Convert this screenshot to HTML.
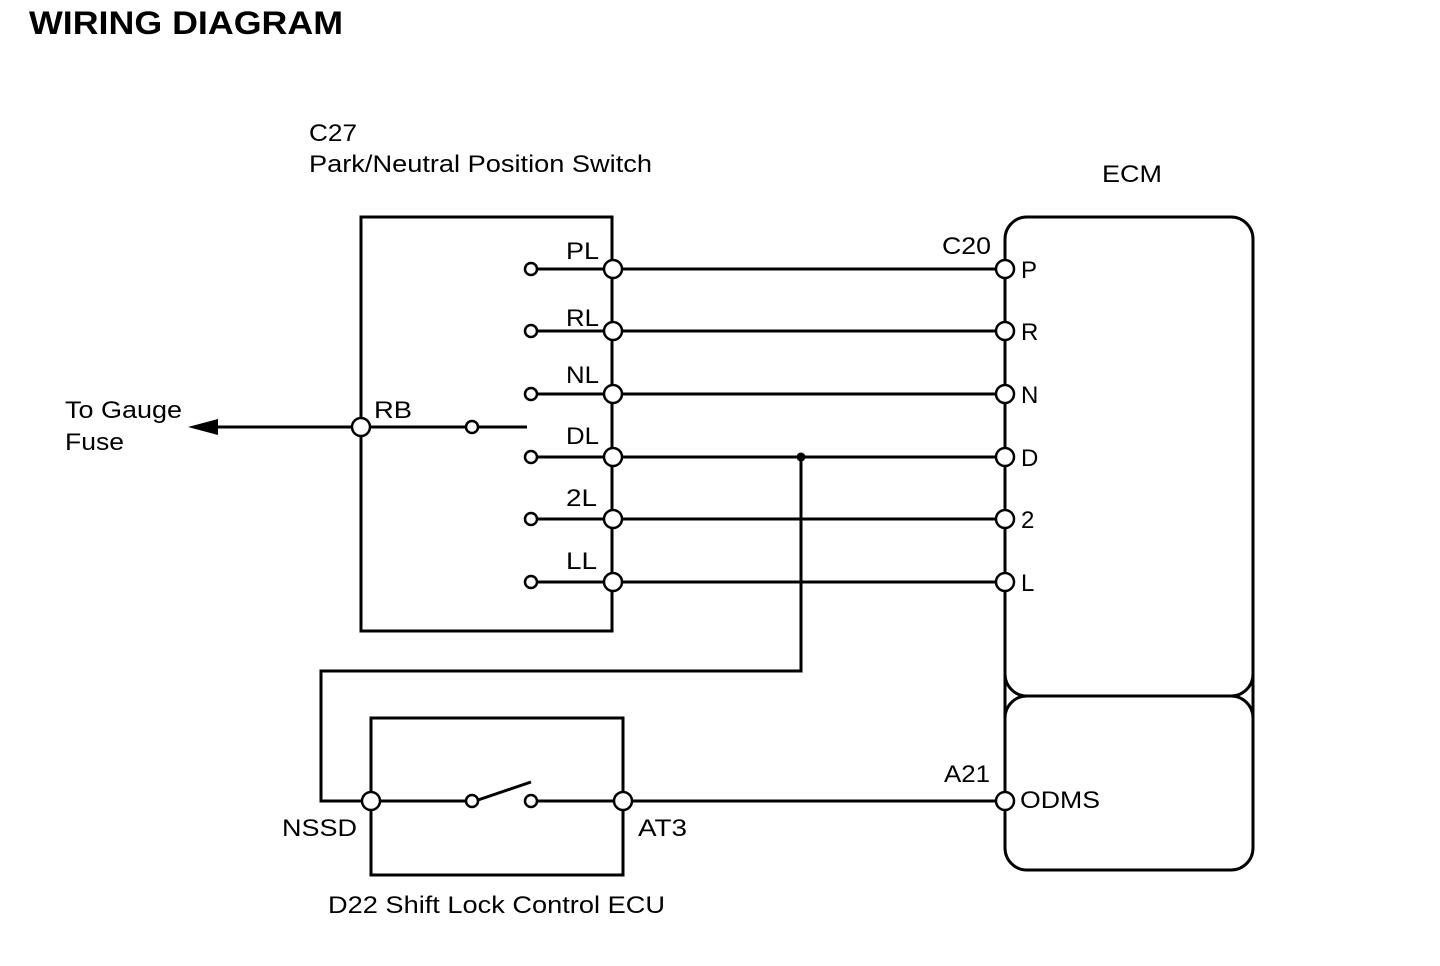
<!DOCTYPE html>
<html><head><meta charset="utf-8"><style>
html,body{margin:0;padding:0;background:#fff;}
svg{display:block;}
text{font-family:"Liberation Sans",Arial,sans-serif;fill:#000;}
</style></head><body>
<svg width="1440" height="966" viewBox="0 0 1440 966" xmlns="http://www.w3.org/2000/svg">
<text x="29" y="34" font-size="32" font-weight="bold" textLength="314" lengthAdjust="spacingAndGlyphs">WIRING DIAGRAM</text>
<g font-size="24" lengthAdjust="spacingAndGlyphs">
<text x="309" y="141" textLength="48" lengthAdjust="spacingAndGlyphs">C27</text>
<text x="309" y="172" textLength="343" lengthAdjust="spacingAndGlyphs">Park/Neutral Position Switch</text>
<text x="1102" y="182" textLength="60" lengthAdjust="spacingAndGlyphs">ECM</text>
<text x="65" y="418" textLength="117" lengthAdjust="spacingAndGlyphs">To Gauge</text>
<text x="65" y="450" textLength="59" lengthAdjust="spacingAndGlyphs">Fuse</text>
<text x="374" y="418" textLength="38" lengthAdjust="spacingAndGlyphs">RB</text>
<text x="566" y="259" textLength="33" lengthAdjust="spacingAndGlyphs">PL</text>
<text x="566" y="326" textLength="33" lengthAdjust="spacingAndGlyphs">RL</text>
<text x="566" y="383" textLength="33" lengthAdjust="spacingAndGlyphs">NL</text>
<text x="566" y="444" textLength="33" lengthAdjust="spacingAndGlyphs">DL</text>
<text x="566" y="506" textLength="31" lengthAdjust="spacingAndGlyphs">2L</text>
<text x="566" y="569" textLength="31" lengthAdjust="spacingAndGlyphs">LL</text>
<text x="942" y="254" textLength="49" lengthAdjust="spacingAndGlyphs">C20</text>
<text x="1021" y="278">P</text>
<text x="1021" y="340">R</text>
<text x="1021" y="403">N</text>
<text x="1021" y="466">D</text>
<text x="1021" y="528">2</text>
<text x="1021" y="591">L</text>
<text x="944" y="782" textLength="46" lengthAdjust="spacingAndGlyphs">A21</text>
<text x="1020" y="808" textLength="80" lengthAdjust="spacingAndGlyphs">ODMS</text>
<text x="282" y="836" textLength="75" lengthAdjust="spacingAndGlyphs">NSSD</text>
<text x="638" y="836" textLength="49" lengthAdjust="spacingAndGlyphs">AT3</text>
<text x="328" y="913" textLength="337" lengthAdjust="spacingAndGlyphs">D22 Shift Lock Control ECU</text>
</g>
<g stroke="#000" stroke-width="3" fill="none">
<rect x="361" y="217" width="251" height="414"/>
<rect x="1005" y="217" width="248" height="479" rx="22"/>
<rect x="1005" y="696" width="248" height="174" rx="22"/>
<line x1="1005" y1="660" x2="1005" y2="740"/>
<line x1="1253" y1="660" x2="1253" y2="740"/>
<rect x="371" y="718" width="252" height="157"/>
<line x1="531" y1="269" x2="1005" y2="269"/>
<line x1="531" y1="331" x2="1005" y2="331"/>
<line x1="531" y1="394" x2="1005" y2="394"/>
<line x1="531" y1="457" x2="1005" y2="457"/>
<line x1="531" y1="519" x2="1005" y2="519"/>
<line x1="531" y1="582" x2="1005" y2="582"/>
<line x1="361" y1="427" x2="527" y2="427"/>
<line x1="210" y1="427" x2="361" y2="427"/>
<polyline points="801,457 801,671 321,671 321,801 371,801"/>
<line x1="371" y1="801" x2="472" y2="801"/>
<line x1="478" y1="800" x2="531" y2="782"/>
<line x1="531" y1="801" x2="1005" y2="801"/>
</g>
<polygon points="188,427 218,419 218,435" fill="#000"/>
<circle cx="801" cy="457" r="4.5" fill="#000"/>
<g stroke="#000" stroke-width="2.5" fill="#fff">
<circle cx="531" cy="269" r="6"/><circle cx="531" cy="331" r="6"/><circle cx="531" cy="394" r="6"/>
<circle cx="531" cy="457" r="6"/><circle cx="531" cy="519" r="6"/><circle cx="531" cy="582" r="6"/>
<circle cx="472" cy="427" r="6"/>
<circle cx="472" cy="801" r="6"/><circle cx="531" cy="801" r="6"/>
<circle cx="613" cy="269" r="9"/><circle cx="613" cy="331" r="9"/><circle cx="613" cy="394" r="9"/>
<circle cx="613" cy="457" r="9"/><circle cx="613" cy="519" r="9"/><circle cx="613" cy="582" r="9"/>
<circle cx="1005" cy="269" r="9"/><circle cx="1005" cy="331" r="9"/><circle cx="1005" cy="394" r="9"/>
<circle cx="1005" cy="457" r="9"/><circle cx="1005" cy="519" r="9"/><circle cx="1005" cy="582" r="9"/>
<circle cx="1005" cy="801" r="9"/>
<circle cx="361" cy="427" r="9"/>
<circle cx="371" cy="801" r="9"/><circle cx="623" cy="801" r="9"/>
</g>
</svg>
</body></html>
